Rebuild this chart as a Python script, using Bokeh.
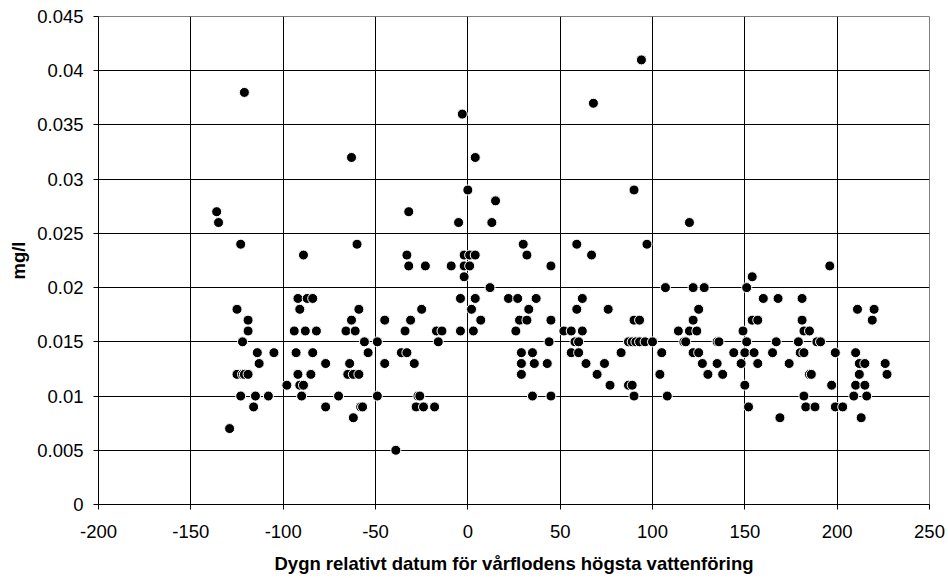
from bokeh.plotting import figure
from bokeh.models import Range1d, FixedTicker, CustomJSTickFormatter, ColumnDataSource
from bokeh.embed import file_html
from bokeh.resources import INLINE

# Days relative to spring-flood peak, and concentration (mg/l)
days = [
    -136, -135, -123, -121, -129, -125, -119, -119, -122,
    -114, -105, -113, -125, -122, -121, -119, -123, -115, -108, -116,
    -89, -92, -87, -84, -91, -94, -88, -82, -93, -84, -77, -92, -85,
    -98, -91, -89, -90, -70, -77,
    -63, -60, -59, -63, -66, -61, -56, -49, -54, -64, -65, -62, -59,
    -49, -58, -57, -62,
    -32, -33, -32, -23, -25, -45, -31, -34, -17, -14, -16, -36, -33,
    -45, -29, -27, -26, -28, -24, -18, -39,
    -3, 4, 0, 15, -5, 13, -2, 1, 4, -9, -2, 1, -2, 12, -4, 4, 2, 7, -4, 3,
    30, 32, 45, 22, 27, 37, 33, 28, 32, 45, 26, 44, 29, 35, 29, 36, 43,
    29, 35, 45,
    94, 68, 90, 59, 97, 67, 107, 62, 59, 76, 90, 93, 52, 56, 62,
    58, 60, 87, 89, 91, 93, 96, 100, 56, 60, 83, 105, 64, 74, 70, 104,
    77, 87, 89, 90, 108,
    120, 122, 128, 125, 122, 114, 120, 124, 117, 118, 135, 136, 122, 125,
    127, 135, 130, 138,
    154, 151, 160, 168, 181, 154, 157, 181, 149, 182, 185,
    151, 167, 179, 189, 191, 144, 150, 155, 165, 180, 182, 199, 210,
    148, 157, 174, 212, 215, 226, 185, 186, 212, 227,
    150, 197, 210, 215, 182, 209, 216, 152, 183, 188, 199, 203,
    169, 213, 196, 211, 220, 219,
]
conc = [
    0.027, 0.026, 0.024, 0.038, 0.007, 0.018, 0.017, 0.016, 0.015,
    0.014, 0.014, 0.013, 0.012, 0.012, 0.012, 0.012, 0.010, 0.010, 0.010, 0.009,
    0.023, 0.019, 0.019, 0.019, 0.018, 0.016, 0.016, 0.016, 0.014, 0.014, 0.013, 0.012, 0.012,
    0.011, 0.011, 0.011, 0.010, 0.010, 0.009,
    0.032, 0.024, 0.018, 0.017, 0.016, 0.016, 0.015, 0.015, 0.014, 0.013, 0.012, 0.012, 0.012,
    0.010, 0.009, 0.009, 0.008,
    0.027, 0.023, 0.022, 0.022, 0.018, 0.017, 0.017, 0.016, 0.016, 0.016, 0.015, 0.014, 0.014,
    0.013, 0.013, 0.010, 0.010, 0.009, 0.009, 0.009, 0.005,
    0.036, 0.032, 0.029, 0.028, 0.026, 0.026, 0.023, 0.023, 0.023, 0.022, 0.022, 0.022, 0.021,
    0.020, 0.019, 0.019, 0.018, 0.017, 0.016, 0.016,
    0.024, 0.023, 0.022, 0.019, 0.019, 0.019, 0.018, 0.017, 0.017, 0.017, 0.016, 0.015, 0.014,
    0.014, 0.013, 0.013, 0.013,
    0.012, 0.010, 0.010,
    0.041, 0.037, 0.029, 0.024, 0.024, 0.023, 0.020, 0.019, 0.018, 0.018, 0.017, 0.017, 0.016,
    0.016, 0.016,
    0.015, 0.015, 0.015, 0.015, 0.015, 0.015, 0.015, 0.015, 0.014, 0.014, 0.014, 0.014, 0.013,
    0.013, 0.012, 0.012,
    0.011, 0.011, 0.011, 0.010, 0.010,
    0.026, 0.020, 0.020, 0.018, 0.017, 0.016, 0.016, 0.016, 0.015, 0.015, 0.015, 0.015, 0.014,
    0.014, 0.013, 0.013, 0.012, 0.012,
    0.021, 0.020, 0.019, 0.019, 0.019, 0.017, 0.017, 0.017, 0.016, 0.016, 0.016,
    0.015, 0.015, 0.015, 0.015, 0.015, 0.014, 0.014, 0.014, 0.014, 0.014, 0.014, 0.014, 0.014,
    0.013, 0.013, 0.013, 0.013, 0.013, 0.013, 0.012, 0.012, 0.012, 0.012,
    0.011, 0.011, 0.011, 0.011, 0.010, 0.010, 0.010, 0.009, 0.009, 0.009, 0.009, 0.009,
    0.008, 0.008, 0.022, 0.018, 0.018, 0.017,
]

x_ticks = [-200, -150, -100, -50, 0, 50, 100, 150, 200, 250]
y_ticks = [0, 0.005, 0.01, 0.015, 0.02, 0.025, 0.03, 0.035, 0.04, 0.045]
x_title = "Dygn relativt datum för vårflodens högsta vattenföring"
y_title = "mg/l"

FONT = "Liberation Sans"

p = figure(width=948, height=578, output_backend="svg", toolbar_location=None,
           x_range=Range1d(-200, 250), y_range=Range1d(0, 0.045),
           min_border_left=98, min_border_right=19, min_border_top=16,
           min_border_bottom=74)
p.background_fill_color = "white"
p.border_fill_color = "white"
p.outline_line_color = "#808080"
p.outline_line_width = 1

src = ColumnDataSource(dict(x=days, y=conc))
p.scatter("x", "y", source=src, marker="circle", size=10,
          fill_color="black", line_color="white", line_width=1)

for ax in (p.xaxis[0], p.yaxis[0]):
    ax.axis_line_color = "black"
    ax.major_tick_line_color = "black"
    ax.major_tick_out = 5
    ax.major_tick_in = 0
    ax.minor_tick_line_color = None
    ax.major_label_text_font = FONT
    ax.major_label_text_font_size = "18.5px"
    ax.major_label_text_color = "black"
    ax.axis_label_text_font = FONT
    ax.axis_label_text_font_size = "18.5px"
    ax.axis_label_text_font_style = "bold"
    ax.axis_label_text_color = "black"

p.xaxis.ticker = FixedTicker(ticks=x_ticks)
p.yaxis.ticker = FixedTicker(ticks=y_ticks)
p.xaxis.formatter = CustomJSTickFormatter(code="return String(tick);")
p.yaxis.formatter = CustomJSTickFormatter(code="return String(Number(tick.toFixed(3)));")
p.xaxis.major_label_standoff = 15
p.yaxis.major_label_standoff = 10
p.xaxis.axis_label = x_title
p.yaxis.axis_label = y_title
p.xaxis.axis_label_standoff = 12
p.yaxis.axis_label_standoff = 5

p.xgrid.ticker = FixedTicker(ticks=x_ticks)
p.ygrid.ticker = FixedTicker(ticks=y_ticks)
p.grid.grid_line_color = "black"
p.grid.grid_line_width = 1

open("out.html", "w").write(file_html(p, INLINE))
